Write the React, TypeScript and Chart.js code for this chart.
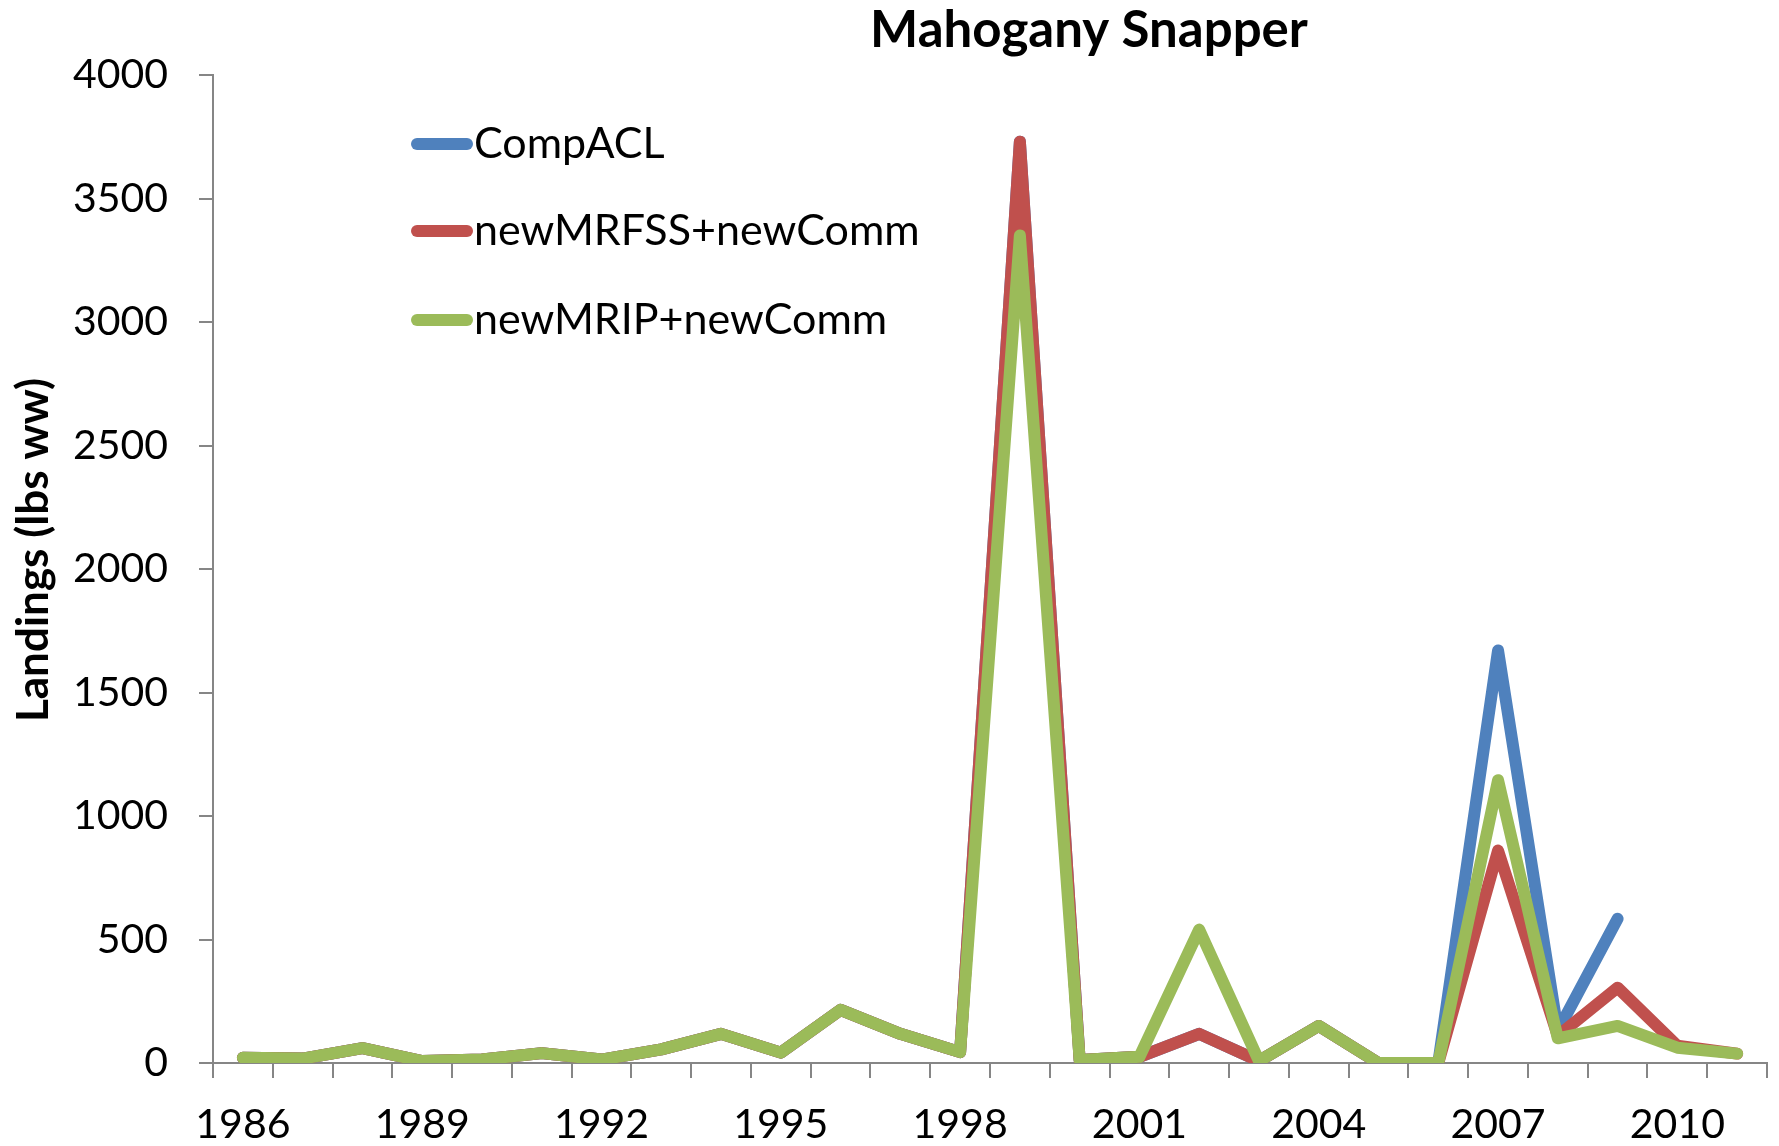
import React, { useEffect, useRef } from "react";
import { Chart, registerables } from "chart.js";

Chart.register(...registerables);

const years = ["1986","1987","1988","1989","1990","1991","1992","1993","1994","1995","1996","1997","1998","1999","2000","2001","2002","2003","2004","2005","2006","2007","2008","2009","2010","2011"];
const compACL = [21,18,60,8,14,40,14,55,118,42,215,118,44,3730,12,25,118,8,150,0,0,1670,130,584,null,null];
const newMRFSS = [21,18,60,8,14,40,14,55,118,42,215,118,44,3730,12,25,118,8,150,0,0,860,110,305,70,38];
const newMRIP = [21,18,60,8,14,40,14,55,118,42,215,118,44,3350,12,25,540,8,150,0,0,1145,100,150,62,38];
const seriesNames = ["CompACL", "newMRFSS+newComm", "newMRIP+newComm"];
const seriesColors = ["#4F81BD", "#C0504D", "#9BBB59"];
const yTicks = [0, 500, 1000, 1500, 2000, 2500, 3000, 3500, 4000];
const chartTitle = "Mahogany Snapper";
const yTitle = "Landings (lbs ww)";

const FONT = "Lato, 'Open Sans', sans-serif";

const overlayPlugin = {
  id: "overlay",
  afterDraw(chart: any) {
    const ctx = chart.ctx;
    ctx.save();
    ctx.fillStyle = "#000";
    // title
    ctx.font = `bold 51px ${FONT}`;
    ctx.textAlign = "center";
    ctx.textBaseline = "middle";
    ctx.fillText(chartTitle, 1089, 31);
    // y-axis title
    ctx.save();
    ctx.translate(34, 550);
    ctx.rotate(-Math.PI / 2);
    ctx.font = `bold 44px ${FONT}`;
    ctx.fillText(yTitle, 0, 0);
    ctx.restore();
    // legend
    ctx.font = `43px ${FONT}`;
    ctx.textAlign = "left";
    const rows = [144, 231, 320];
    for (let i = 0; i < 3; i++) {
      ctx.strokeStyle = seriesColors[i];
      ctx.lineWidth = 12;
      ctx.lineCap = "round";
      ctx.beginPath();
      ctx.moveTo(417, rows[i]);
      ctx.lineTo(467, rows[i]);
      ctx.stroke();
      ctx.fillText(seriesNames[i], 474, rows[i]);
    }
    ctx.restore();
  },
};

export default function App() {
  const ref = useRef<HTMLCanvasElement | null>(null);
  useEffect(() => {
    document.body.style.margin = "0";
    const c = ref.current!;
    const ds = [
      { label: seriesNames[2], data: newMRIP, borderColor: seriesColors[2] },
      { label: seriesNames[1], data: newMRFSS, borderColor: seriesColors[1] },
      { label: seriesNames[0], data: compACL, borderColor: seriesColors[0] },
    ].map((d) => ({
      ...d,
      backgroundColor: d.borderColor,
      borderWidth: 12,
      pointRadius: 0,
      borderCapStyle: "round" as const,
      borderJoinStyle: "round" as const,
      tension: 0,
      spanGaps: false,
    }));
    const chart = new Chart(c, {
      type: "line",
      data: { labels: years, datasets: ds },
      options: {
        animation: false,
        responsive: false,
        maintainAspectRatio: false,
        layout: { padding: { top: 75, right: 12, left: 0, bottom: 0 } },
        plugins: { legend: { display: false }, title: { display: false }, tooltip: { enabled: false } },
        scales: {
          x: {
            type: "category",
            offset: true,
            grid: { offset: true, drawOnChartArea: false, tickLength: 15, color: "#868686", lineWidth: 2 },
            border: { color: "#868686", width: 2 },
            ticks: {
              autoSkip: false,
              maxRotation: 0,
              minRotation: 0,
              color: "#000",
              font: { family: FONT, size: 41 },
              padding: 22,
              callback: (_v: any, i: number) => (i % 3 === 0 ? years[i] : ""),
            },
            afterFit: (s: any) => { s.height = 83; },
          },
          y: {
            min: 0,
            max: 4000,
            afterBuildTicks: (s: any) => { s.ticks = yTicks.map((v) => ({ value: v })); },
            grid: { drawOnChartArea: false, tickLength: 14, color: "#868686", lineWidth: 2 },
            border: { color: "#868686", width: 2 },
            ticks: {
              color: "#000",
              font: { family: FONT, size: 41 },
              padding: 31,
              callback: (v: any) => String(v),
            },
            afterFit: (s: any) => { s.width = 213; },
          },
        },
      },
      plugins: [overlayPlugin],
    });
    return () => chart.destroy();
  }, []);
  return <canvas ref={ref} width={1779} height={1146} style={{ display: "block" }} />;
}
